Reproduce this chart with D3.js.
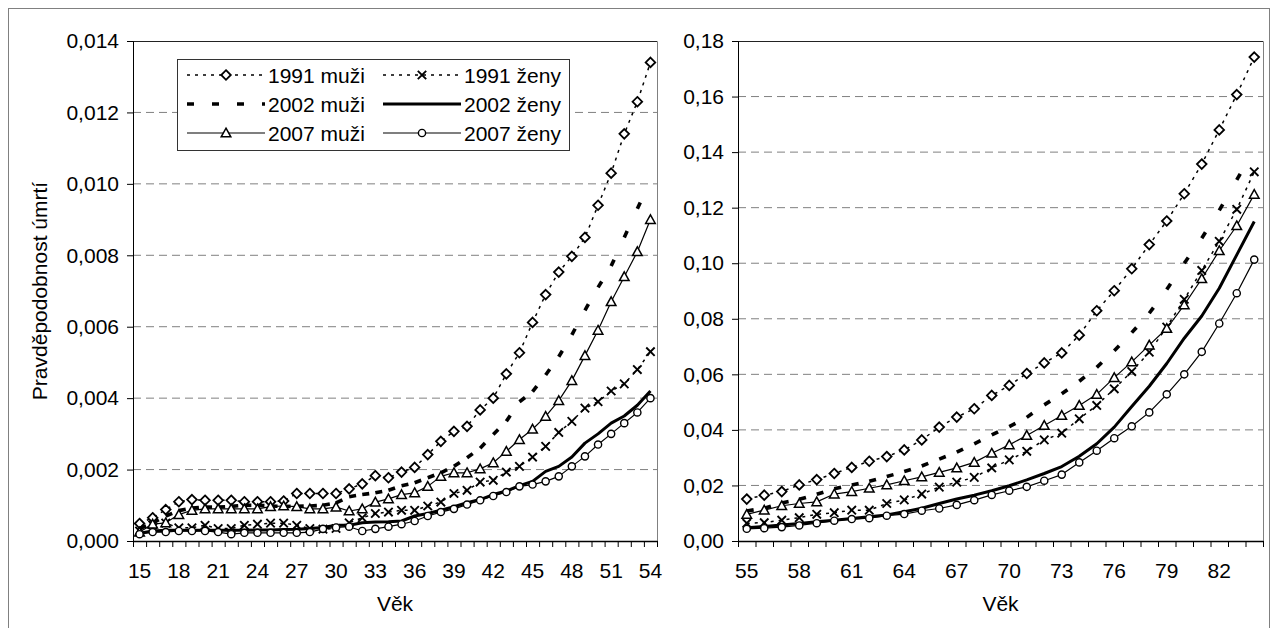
<!DOCTYPE html>
<html>
<head>
<meta charset="utf-8">
<script src="https://cdn.jsdelivr.net/npm/d3@7"></script>
<style>
  body { margin: 0; background: #fff; }
  svg text { font-family: "Liberation Sans", Arial, sans-serif; fill: #000; }
</style>
</head>
<body>
<svg id="chart" width="1278" height="628"></svg>
<script>
// ages on the two category axes
const agesYoung = [15,16,17,18,19,20,21,22,23,24,25,26,27,28,29,30,31,32,33,34,
  35,36,37,38,39,40,41,42,43,44,45,46,47,48,49,50,51,52,53,54];
const agesOld = [55,56,57,58,59,60,61,62,63,64,65,66,67,68,69,70,71,72,73,74,
  75,76,77,78,79,80,81,82,83,84];
const tickAgesYoung = [15,18,21,24,27,30,33,36,39,42,45,48,51,54];
const tickAgesOld = [55,58,61,64,67,70,73,76,79,82];
const yTicksYoung = [0,0.002,0.004,0.006,0.008,0.010,0.012,0.014];
const yTicksOld = [0,0.02,0.04,0.06,0.08,0.10,0.12,0.14,0.16,0.18];

// 15-54
const m1991Young = [0.00049,0.00065,0.00088,0.0011,0.00116,0.00114,0.00114,0.00114,0.0011,0.0011,
  0.0011,0.00112,0.00133,0.00133,0.00133,0.00133,0.00146,0.0016,0.00183,0.00177,
  0.00193,0.00206,0.00242,0.00279,0.00307,0.00321,0.00367,0.004,0.00468,0.00527,
  0.00612,0.0069,0.00753,0.00797,0.0085,0.0094,0.0103,0.0114,0.0123,0.0134];
const z1991Young = [0.00028,0.00045,0.0005,0.00037,0.00037,0.00044,0.00035,0.00035,0.00044,0.00047,
  0.0005,0.0005,0.00044,0.00035,0.00033,0.00035,0.00051,0.00065,0.00077,0.00081,
  0.00086,0.00086,0.00098,0.00109,0.00133,0.00142,0.00165,0.0017,0.00193,0.00209,
  0.00235,0.00265,0.00304,0.00335,0.00372,0.0039,0.0042,0.0044,0.0048,0.0053];
const m2002Young = [0.00035,0.0005,0.0007,0.00085,0.00092,0.00095,0.00095,0.00097,0.001,0.001,
  0.00098,0.00097,0.00097,0.00098,0.001,0.00107,0.00124,0.0013,0.00135,0.00142,
  0.00155,0.00163,0.00177,0.00191,0.00209,0.00233,0.0026,0.00298,0.00335,0.0039,
  0.00418,0.00465,0.00516,0.00577,0.00646,0.0071,0.0077,0.0085,0.0093,0.0101];
const z2002Young = [0.00022,0.00028,0.0003,0.0003,0.0003,0.0003,0.0003,0.0003,0.0003,0.00031,
  0.00031,0.00032,0.00033,0.00035,0.00038,0.00044,0.00044,0.00051,0.00053,0.00054,
  0.00056,0.0007,0.00077,0.00086,0.00096,0.00107,0.00116,0.0013,0.0014,0.00155,
  0.00167,0.00195,0.00209,0.00235,0.00274,0.003,0.0033,0.0035,0.0038,0.0042];
const m2007Young = [0.00025,0.00047,0.00051,0.00074,0.00086,0.0009,0.0009,0.0009,0.0009,0.0009,
  0.00096,0.00098,0.00096,0.0009,0.0009,0.00095,0.00084,0.0009,0.00109,0.00118,
  0.0013,0.00135,0.00153,0.00181,0.00191,0.00191,0.00202,0.00219,0.00251,0.00284,
  0.00313,0.00349,0.00393,0.00449,0.00519,0.0059,0.0067,0.0074,0.0081,0.009];
const z2007Young = [0.00019,0.00025,0.00025,0.00028,0.00028,0.00028,0.00025,0.00019,0.00023,0.00023,
  0.00023,0.00023,0.00023,0.00025,0.00034,0.00038,0.0004,0.00028,0.00034,0.0004,
  0.00047,0.00056,0.0007,0.00081,0.0009,0.00102,0.00114,0.00126,0.00137,0.00153,
  0.00158,0.00167,0.00181,0.00209,0.00237,0.0027,0.003,0.0033,0.0036,0.004];

// 55-84
const m1991Old = [0.0151,0.0165,0.0178,0.0202,0.0221,0.0243,0.0265,0.0287,0.0304,0.0328,
  0.0364,0.041,0.0446,0.0476,0.0524,0.056,0.0603,0.0641,0.0677,0.0741,
  0.0829,0.0901,0.098,0.1067,0.1152,0.125,0.1357,0.148,0.1607,0.1742];
const z1991Old = [0.0064,0.0066,0.0075,0.0084,0.0096,0.0102,0.0111,0.0111,0.0135,0.0148,
  0.0169,0.0194,0.0212,0.0229,0.0263,0.0292,0.0323,0.0364,0.0388,0.044,
  0.0488,0.0548,0.061,0.068,0.077,0.087,0.0974,0.1079,0.1194,0.1329];
const m2002Old = [0.0108,0.0118,0.0137,0.015,0.0168,0.0188,0.0202,0.0215,0.0232,0.025,
  0.027,0.0295,0.032,0.035,0.0382,0.0412,0.0445,0.049,0.053,0.0575,
  0.0625,0.0685,0.075,0.082,0.0905,0.1,0.109,0.119,0.13,0.141];
const z2002Old = [0.0048,0.0052,0.0058,0.0063,0.0069,0.0075,0.0081,0.0087,0.0094,0.0105,
  0.0118,0.0135,0.0151,0.0165,0.0181,0.0199,0.022,0.0243,0.0268,0.0305,
  0.035,0.041,0.0484,0.0557,0.0639,0.073,0.081,0.091,0.103,0.115];
const m2007Old = [0.0096,0.0111,0.0127,0.0135,0.0141,0.0169,0.0178,0.019,0.0202,0.0217,
  0.0231,0.0247,0.0263,0.0283,0.0316,0.0346,0.038,0.0416,0.0452,0.0488,
  0.0528,0.0588,0.0645,0.0705,0.0765,0.085,0.0944,0.1045,0.1135,0.1248];
const z2007Old = [0.0044,0.0046,0.005,0.0056,0.0064,0.0073,0.0079,0.0082,0.0091,0.0097,
  0.0109,0.0117,0.013,0.0147,0.0166,0.0181,0.0195,0.0217,0.0239,0.0283,
  0.0325,0.037,0.0413,0.0463,0.0528,0.06,0.0681,0.0783,0.0892,0.1013];

const seriesNames = ["1991 muži","1991 ženy","2002 muži","2002 ženy","2007 muži","2007 ženy"];

// line + marker style per series
const styles = {
  "1991 muži": { width: 1.5, dash: "3,5", marker: "diamond" },
  "1991 ženy": { width: 1.5, dash: "3,5", marker: "cross" },
  "2002 muži": { width: 3.6, dash: "perseg", marker: null },
  "2002 ženy": { width: 3, dash: null, marker: null },
  "2007 muži": { width: 1.2, dash: null, marker: "triangle" },
  "2007 ženy": { width: 1.2, dash: null, marker: "circle" }
};

const csLocale = d3.formatLocale({ decimal: ",", thousands: " ", grouping: [3], currency: ["", ""] });
const svg = d3.select("#chart");
const FONT = 21;

// outer frame of the whole chart object
svg.append("rect")
  .attr("x", 8.5).attr("y", 8.5)
  .attr("width", 1261).attr("height", 640)
  .attr("fill", "none").attr("stroke", "#808080");

function drawMarker(g, type, cx, cy) {
  if (type === "diamond") {
    const s = 4.8;
    g.append("path")
      .attr("d", `M${cx},${cy - s}L${cx + s},${cy}L${cx},${cy + s}L${cx - s},${cy}Z`)
      .attr("fill", "#fff").attr("stroke", "#000").attr("stroke-width", 1.8);
  } else if (type === "cross") {
    const s = 4.2;
    g.append("path")
      .attr("d", `M${cx - s},${cy - s}L${cx + s},${cy + s}M${cx - s},${cy + s}L${cx + s},${cy - s}`)
      .attr("stroke", "#000").attr("stroke-width", 1.9);
  } else if (type === "triangle") {
    const s = 4.8;
    g.append("path")
      .attr("d", `M${cx},${cy - s}L${cx + s},${cy + s * 0.8}L${cx - s},${cy + s * 0.8}Z`)
      .attr("fill", "#fff").attr("stroke", "#000").attr("stroke-width", 1.5);
  } else if (type === "circle") {
    g.append("circle").attr("cx", cx).attr("cy", cy).attr("r", 3.6)
      .attr("fill", "#fff").attr("stroke", "#000").attr("stroke-width", 1.4);
  }
}

function drawPanel(opts) {
  const { left, right, top, bottom, ages, tickAges, yTicks, yMax, fmt, data } = opts;

  const x = d3.scaleBand().domain(ages).range([left, right]).padding(0);
  const y = d3.scaleLinear().domain([0, yMax]).range([bottom, top]);
  const xEdge = d3.scaleLinear().domain([0, ages.length]).range([left, right]);
  const cx = a => x(a) + x.bandwidth() / 2;

  const g = svg.append("g");

  // dashed gridlines
  g.selectAll("line.grid")
    .data(yTicks.filter(v => v > 0 && v < yMax))
    .enter().append("line")
    .attr("x1", left).attr("x2", right)
    .attr("y1", d => y(d)).attr("y2", d => y(d))
    .attr("stroke", "#808080").attr("stroke-width", 1)
    .attr("stroke-dasharray", "8,5");

  // plot area border (top + right)
  g.append("path")
    .attr("d", `M${left},${top + 0.5}H${right + 0.5}V${bottom}`)
    .attr("fill", "none").attr("stroke", "#808080").attr("stroke-width", 1);
  g.append("line")
    .attr("x1", left).attr("x2", right).attr("y1", top + 0.5).attr("y2", top + 0.5)
    .attr("stroke", "#222");

  // series
  seriesNames.forEach((name, i) => {
    const vals = data[i];
    const st = styles[name];
    const pts = ages.map((a, j) => [cx(a), y(vals[j])]);
    if (st.dash === "perseg") {
      // Excel restarts the dash on every segment -> one dash per year
      d3.pairs(pts).forEach(([p, q]) => {
        g.append("line")
          .attr("x1", p[0]).attr("y1", p[1]).attr("x2", q[0]).attr("y2", q[1])
          .attr("stroke", "#000").attr("stroke-width", st.width)
          .attr("stroke-dasharray", "7,40");
      });
    } else {
      g.append("path")
        .attr("d", d3.line()(pts))
        .attr("fill", "none").attr("stroke", "#000")
        .attr("stroke-width", st.width)
        .attr("stroke-linejoin", "round")
        .attr("stroke-dasharray", st.dash);
    }
    if (st.marker) pts.forEach(p => drawMarker(g, st.marker, p[0], p[1]));
  });

  // y axis
  const yAxis = g.append("g")
    .attr("transform", `translate(${left},0)`)
    .call(d3.axisLeft(y).tickValues(yTicks).tickSize(6).tickPadding(8).tickFormat(csLocale.format(fmt)));
  yAxis.select(".domain").attr("stroke", "#000");
  yAxis.selectAll(".tick line").attr("stroke", "#000");
  yAxis.selectAll("text").attr("font-size", FONT).attr("font-family", "Liberation Sans, Arial, sans-serif");

  // x axis: ticks between categories
  const xAxis = g.append("g")
    .attr("transform", `translate(0,${bottom})`)
    .call(d3.axisBottom(xEdge).tickValues(d3.range(ages.length + 1)).tickSize(6).tickSizeOuter(0).tickFormat(""));
  xAxis.select(".domain").attr("stroke", "#000").attr("stroke-width", 1.5);
  xAxis.selectAll(".tick line").attr("stroke", "#000");

  const xLab = g.append("g")
    .attr("transform", `translate(0,${bottom})`)
    .call(d3.axisBottom(x).tickValues(tickAges).tickSize(0).tickPadding(22));
  xLab.select(".domain").remove();
  xLab.selectAll("text").attr("font-size", FONT).attr("font-family", "Liberation Sans, Arial, sans-serif");

  g.append("text")
    .attr("x", (left + right) / 2).attr("y", 611)
    .attr("text-anchor", "middle").attr("font-size", FONT)
    .text("Věk");
}

drawPanel({
  left: 133, right: 657, top: 41, bottom: 541,
  ages: agesYoung, tickAges: tickAgesYoung, yTicks: yTicksYoung, yMax: 0.014, fmt: ".3f",
  data: [m1991Young, z1991Young, m2002Young, z2002Young, m2007Young, z2007Young]
});
drawPanel({
  left: 738, right: 1263, top: 41, bottom: 541,
  ages: agesOld, tickAges: tickAgesOld, yTicks: yTicksOld, yMax: 0.18, fmt: ".2f",
  data: [m1991Old, z1991Old, m2002Old, z2002Old, m2007Old, z2007Old]
});

// y axis title
svg.append("text")
  .attr("transform", "translate(47,291) rotate(-90)")
  .attr("text-anchor", "middle").attr("font-size", FONT)
  .text("Pravděpodobnost úmrtí");

// legend
const legend = svg.append("g");
legend.append("rect")
  .attr("x", 177.5).attr("y", 59.5).attr("width", 392).attr("height", 91)
  .attr("fill", "#fff").attr("stroke", "#333");
const legCols = [187, 383];
const legRows = [75, 104, 133];
seriesNames.forEach((name, i) => {
  const st = styles[name];
  const x0 = legCols[i % 2], yy = legRows[Math.floor(i / 2)];
  const x1 = x0 + 78;
  legend.append("line")
    .attr("x1", x0).attr("x2", x1).attr("y1", yy).attr("y2", yy)
    .attr("stroke", "#000").attr("stroke-width", st.width)
    .attr("stroke-dasharray", st.dash === "perseg" ? "7,18" : st.dash);
  if (st.marker) drawMarker(legend, st.marker, (x0 + x1) / 2, yy);
  legend.append("text")
    .attr("x", x1 + 3).attr("y", yy + 7.5)
    .attr("font-size", FONT)
    .text(name);
});
</script>
</body>
</html>
